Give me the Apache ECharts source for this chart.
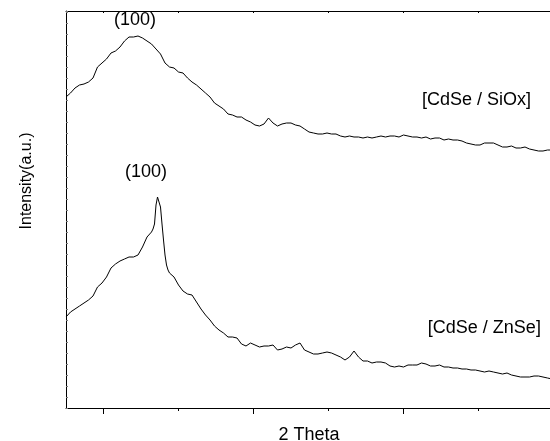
<!DOCTYPE html>
<html>
<head>
<meta charset="utf-8">
<script src="https://cdn.jsdelivr.net/npm/echarts@6/dist/echarts.min.js"></script>
<style>
html,body{margin:0;padding:0;background:#fff;}
#chart{width:550px;height:441px;}
</style>
</head>
<body>
<div id="chart"></div>
<script>
// 2θ sampling of the CdSe / SiOx scan (degrees)
const sioxTheta = [
17.5,17.8,18.1,18.4,18.7,19.0,19.3,19.6,19.9,20.2,
20.5,20.8,21.1,21.4,21.7,22.0,22.3,22.6,22.9,23.2,
23.5,23.8,24.1,24.4,24.7,25.0,25.3,25.6,25.9,26.2,
26.5,26.8,27.1,27.4,27.7,28.0,28.3,28.6,28.9,29.2,
29.5,29.8,30.1,30.4,30.7,31.0,31.3,31.6,31.9,32.2,
32.5,32.8,33.1,33.4,33.7,34.0,34.3,34.6,34.9,35.2,
35.5,35.8,36.1,36.4,36.7,37.0,37.3,37.6,37.9,38.2,
38.5,38.8,39.1,39.4,39.7,40.0,40.3,40.6,40.9,41.2,
41.5,41.8,42.1,42.4,42.7,43.0,43.3,43.6,43.9,44.2,
44.5,44.8,45.1,45.4,45.7,46.0,46.3,46.6,46.9,47.2,
47.5,47.8,48.1,48.4,48.7,49.0,49.3,49.6,49.9
];
// Intensity (a.u.) of the CdSe / SiOx scan
const sioxIntensity = [
311,315,320,323,324,326,330,341,345,349,
355,357,361,367,371,371,372,370,367,364,
359,354,345,341,340,336,335,330,326,323,
319,315,311,305,302,299,294,293,291,291,
288,286,283,282,284,290,285,282,284,285,
285,283,282,279,276,275,274,274,275,274,
274,272,271,272,271,271,270,271,270,271,
272,271,272,272,271,273,272,271,271,270,
271,269,270,270,268,269,268,268,267,265,
264,263,263,265,265,265,263,261,261,262,
260,260,261,259,258,257,257,258,258
];
// 2θ sampling of the CdSe / ZnSe scan (degrees)
const znseTheta = [
17.5,17.8,18.1,18.4,18.7,19.0,19.3,19.6,19.9,20.2,
20.5,20.8,21.1,21.4,21.7,22.0,22.3,22.6,22.9,
23.2,23.3,23.4,23.5,23.6,23.7,23.8,23.9,24.0,24.1,24.2,24.3,24.4,
24.7,25.0,25.3,25.6,25.9,26.2,26.5,26.8,27.1,27.4,
27.7,28.0,28.3,28.6,28.9,29.2,29.5,29.8,30.1,30.4,
30.7,31.0,31.3,31.6,31.9,32.2,32.5,32.8,33.1,33.4,
33.7,34.0,34.3,34.6,34.9,35.2,35.5,35.8,36.1,36.4,
36.7,37.0,37.3,37.6,37.9,38.2,38.5,38.8,39.1,39.4,
39.7,40.0,40.3,40.6,40.9,41.2,41.5,41.8,42.1,42.4,
42.7,43.0,43.3,43.6,43.9,44.2,44.5,44.8,45.1,45.4,
45.7,46.0,46.3,46.6,46.9,47.2,47.5,47.8,48.1,48.4,
48.7,49.0,49.3,49.6,49.9
];
// Intensity (a.u.) of the CdSe / ZnSe scan
const znseIntensity = [
91,96,99,102,105,108,112,121,125,131,
140,144,147,149,151,151,153,161,171,
176,179,184,203,211,211,201,184,168,153,143,138,135,
131,123,117,114,113,106,99,93,88,82,
78,75,71,71,70,64,62,65,63,61,
62,62,63,58,59,61,60,63,65,58,
56,54,54,55,56,55,53,51,48,51,
57,51,47,47,45,46,46,45,42,41,
42,41,43,43,43,45,44,42,42,43,
41,41,40,40,39,39,38,38,37,36,
37,36,35,34,35,33,32,31,31,31,
32,32,31,30,29
];
const majorTicks = [20, 30, 40];
const minorTicks = [25, 35, 45];
const topTicks = [20, 25, 30, 35, 40, 45];
const peakLabel = '(100)';
const sioxName = '[CdSe / SiOx]';
const znseName = '[CdSe / ZnSe]';
// annotation anchors in data units [2θ, intensity]
const sioxPeakLabelAt = [22.1, 388];
const znsePeakLabelAt = [22.83, 236];
const sioxNameAt = [44.87, 308];
const znseNameAt = [45.39, 80];

const FONT = '"Liberation Sans", Arial, sans-serif';
const chart = echarts.init(document.getElementById('chart'), null, {renderer: 'canvas'});

function annot(text, coord) {
  return {
    coord: coord, value: text, symbol: 'circle', symbolSize: 0,
    label: {show: true, position: 'inside', formatter: text, color: '#000',
            fontSize: 18, fontFamily: FONT}
  };
}

const option = {
  animation: false,
  backgroundColor: '#fff',
  grid: {left: 66, top: 11, width: 486, height: 397, containLabel: false, outerBoundsMode: 'none'},
  xAxis: [
    {
      type: 'value', min: 17.5, max: 49.9, position: 'bottom',
      axisLine: {show: true, onZero: false, lineStyle: {color: '#000', width: 1}},
      axisTick: {show: true, inside: false, length: 6, customValues: majorTicks, lineStyle: {color: '#000', width: 1}},
      axisLabel: {show: false},
      splitLine: {show: false},
      name: '2 Theta', nameLocation: 'middle', nameGap: 18,
      nameTextStyle: {fontSize: 18, color: '#000', fontFamily: FONT}
    },
    {
      type: 'value', min: 17.5, max: 49.9, position: 'bottom',
      axisLine: {show: false, onZero: false},
      axisTick: {show: true, inside: false, length: 3, customValues: minorTicks, lineStyle: {color: '#000', width: 1}},
      axisLabel: {show: false},
      splitLine: {show: false}
    },
    {
      type: 'value', min: 17.5, max: 49.9, position: 'top',
      axisLine: {show: true, onZero: false, lineStyle: {color: '#000', width: 1}},
      axisTick: {show: true, inside: true, length: 2, customValues: topTicks, lineStyle: {color: '#000', width: 1}},
      axisLabel: {show: false},
      splitLine: {show: false}
    }
  ],
  yAxis: {
    type: 'value', min: 0, max: 397, interval: 11,
    axisLine: {show: true, onZero: false, lineStyle: {color: '#000', width: 1}},
    axisTick: {show: true, inside: true, length: 2, lineStyle: {color: '#777', width: 1}},
    axisLabel: {show: false},
    splitLine: {show: false}
  },
  graphic: [{
    type: 'text', x: 27, y: 181, rotation: Math.PI / 2,
    style: {text: 'Intensity(a.u.)', fontSize: 16, fontFamily: FONT, fill: '#000',
            align: 'center', verticalAlign: 'middle'}
  }],
  series: [
    {
      name: sioxName, type: 'line', xAxisIndex: 0, showSymbol: false, symbol: 'none',
      data: sioxTheta.map((t, i) => [t, sioxIntensity[i]]),
      lineStyle: {color: '#000', width: 1},
      markPoint: {silent: true, data: [annot(peakLabel, sioxPeakLabelAt), annot(sioxName, sioxNameAt)]}
    },
    {
      name: znseName, type: 'line', xAxisIndex: 0, showSymbol: false, symbol: 'none',
      data: znseTheta.map((t, i) => [t, znseIntensity[i]]),
      lineStyle: {color: '#000', width: 1},
      markPoint: {silent: true, data: [annot(peakLabel, znsePeakLabelAt), annot(znseName, znseNameAt)]}
    }
  ]
};
chart.setOption(option);
</script>
</body>
</html>
